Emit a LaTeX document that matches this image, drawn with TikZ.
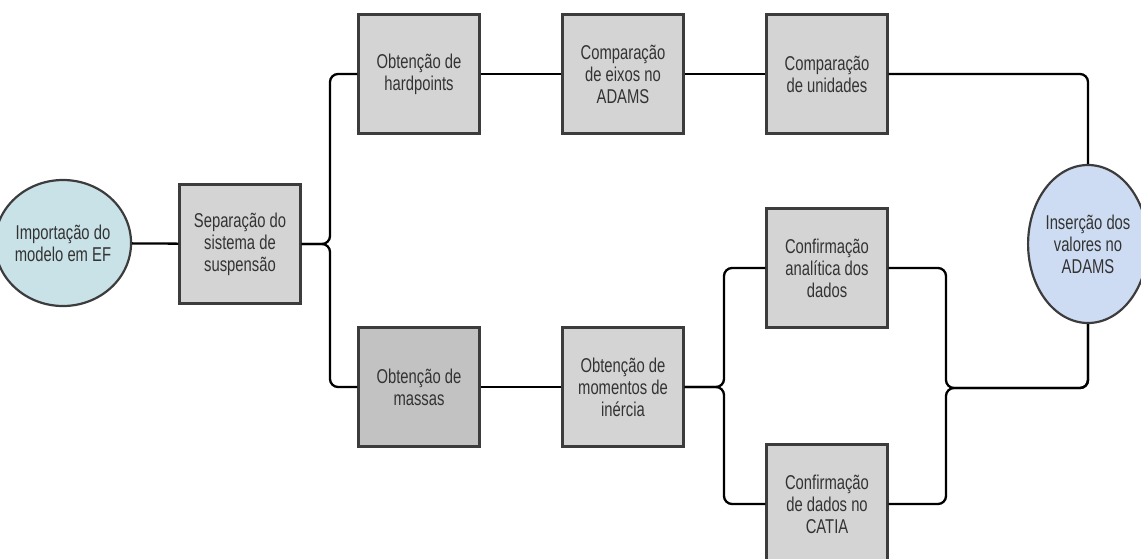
\documentclass[tikz,border=0pt]{standalone}
\usepackage{fontspec}
\setmainfont[FakeStretch=0.74]{Liberation Sans}
\usetikzlibrary{shapes.geometric}
\definecolor{boxfill}{HTML}{D4D4D4}
\definecolor{boxdark}{HTML}{C2C2C2}
\definecolor{boxline}{HTML}{3C3C3C}
\definecolor{txt}{HTML}{333333}
\definecolor{tealfill}{HTML}{C9E2E7}
\definecolor{bluefill}{HTML}{CDDCF2}
\tikzset{
  stepbox/.style={draw=boxline, line width=2.4pt, fill=boxfill, minimum width=121pt, minimum height=119pt, inner sep=0pt, align=center, text=txt, font=\fontsize{20}{22}\selectfont},
  ovalnode/.style={ellipse, draw=boxline, line width=2.2pt, inner sep=0pt, align=center, text=txt, font=\fontsize{20}{22}\selectfont},
  conn/.style={draw=black, line width=2.3pt, rounded corners=8pt}
}
\begin{document}
\begin{tikzpicture}[x=1pt,y=-1pt]
\useasboundingbox (0,0) rectangle (1141,558);
\node[ovalnode, fill=tealfill, minimum width=113pt, minimum height=126pt] (imp) at (63,243) {Importação do\\modelo em EF};
\node[stepbox] (sep) at (240,244) {Separação do\\sistema de\\suspensão};
\node[stepbox] (hard) at (419,74) {Obtenção de\\hardpoints};
\node[stepbox] (eix) at (623,74) {Comparação\\de eixos no\\ADAMS};
\node[stepbox] (uni) at (827,74) {Comparação\\de unidades};
\node[stepbox, fill=boxdark] (mass) at (419,387) {Obtenção de\\massas};
\node[stepbox] (mom) at (623,387) {Obtenção de\\momentos de\\inércia};
\node[stepbox] (ana) at (827,268) {Confirmação\\analítica dos\\dados};
\node[stepbox] (cat) at (827,504) {Confirmação\\de dados no\\CATIA};
\node[ovalnode, fill=bluefill, minimum width=107pt, minimum height=158pt] (ins) at (1088,244) {Inserção dos\\valores no\\ADAMS};
\coordinate (j1) at (330,244);
\coordinate (j2) at (724,387);
\coordinate (j3) at (946,388);
\draw[conn] (imp) -- (sep);
\draw[conn] (sep.east) -- (j1) |- (hard.west);
\draw[conn] (sep.east) -- (j1) |- (mass.west);
\draw[conn] (hard) -- (eix);
\draw[conn] (eix) -- (uni);
\draw[conn] (uni.east) -| (ins.north);
\draw[conn] (mass) -- (mom);
\draw[conn] (mom.east) -- (j2) |- (ana.west);
\draw[conn] (mom.east) -- (j2) |- (cat.west);
\draw[conn] (ana.east) -| (j3) -| (ins.south);
\draw[conn] (cat.east) -| (j3) -| (ins.south);
\end{tikzpicture}
\end{document}
